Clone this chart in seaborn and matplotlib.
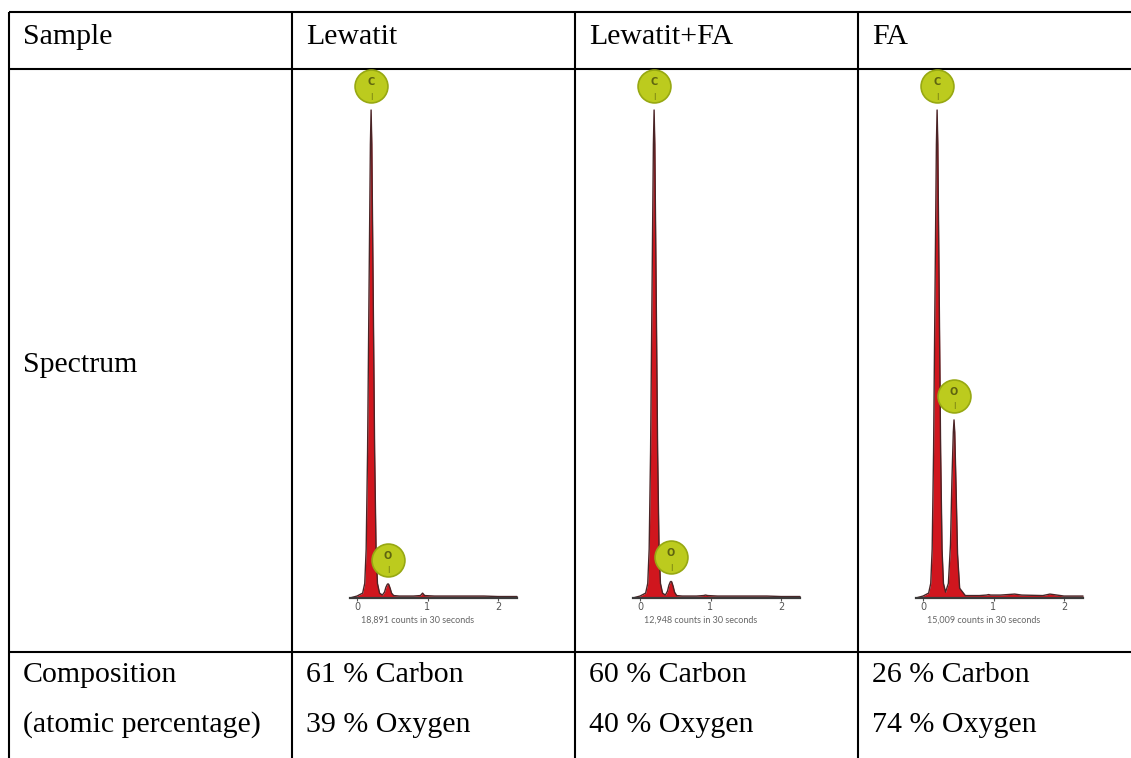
import matplotlib
matplotlib.use("Agg")
import matplotlib.pyplot as plt
from matplotlib.transforms import offset_copy
import seaborn as sns
import pandas as pd

# ---------------- data ----------------
row_labels = ["Sample", "Spectrum", "Composition", "(atomic percentage)"]
samples = ["Lewatit", "Lewatit+FA", "FA"]
carbon_pct = [61, 60, 26]
oxygen_pct = [39, 40, 74]
counts_text = ["18,891 counts in 30 seconds", "12,948 counts in 30 seconds", "15,009 counts in 30 seconds"]

# EDS spectra (energy in keV, intensity relative to C peak)
energy = [-0.10, 0.00, 0.08, 0.11, 0.13, 0.15, 0.17, 0.19, 0.20, 0.21, 0.23, 0.25, 0.27, 0.29, 0.32,
          0.36, 0.39, 0.41, 0.43, 0.44, 0.45, 0.47, 0.49, 0.52, 0.60, 0.80, 0.90, 0.93, 0.96, 1.10,
          1.30, 1.40, 1.70, 1.80, 2.00, 2.27]
spec_lewatit = [0.0, 0.004, 0.01, 0.03, 0.10, 0.30, 0.62, 0.93, 1.00, 0.93, 0.62, 0.30, 0.10, 0.03, 0.01,
                0.006, 0.012, 0.022, 0.028, 0.029, 0.028, 0.020, 0.010, 0.005, 0.004, 0.004, 0.005, 0.010, 0.005, 0.004,
                0.004, 0.004, 0.004, 0.004, 0.003, 0.003]
spec_lewfa = [0.0, 0.004, 0.01, 0.03, 0.10, 0.30, 0.62, 0.93, 1.00, 0.93, 0.62, 0.30, 0.10, 0.03, 0.01,
              0.006, 0.014, 0.026, 0.033, 0.034, 0.033, 0.024, 0.012, 0.005, 0.004, 0.004, 0.005, 0.006, 0.005, 0.004,
              0.004, 0.004, 0.004, 0.004, 0.003, 0.003]
spec_fa = [0.0, 0.004, 0.01, 0.03, 0.10, 0.30, 0.62, 0.93, 1.00, 0.93, 0.62, 0.30, 0.10, 0.03, 0.012,
           0.03, 0.11, 0.24, 0.34, 0.365, 0.34, 0.22, 0.09, 0.02, 0.005, 0.005, 0.006, 0.007, 0.006, 0.006,
           0.008, 0.006, 0.005, 0.008, 0.004, 0.004]
spectra = [spec_lewatit, spec_lewfa, spec_fa]
peak_energy = {"C": 0.20, "O": 0.44}
peak_height = [{"C": 1.00, "O": 0.029}, {"C": 1.00, "O": 0.034}, {"C": 1.00, "O": 0.365}]
tick_values = [0, 1, 2]

# ---------------- figure ----------------
sns.set_theme(style="white")
plt.rcParams["text.color"] = "black"
W, H = 1131, 758
fig = plt.figure(figsize=(W / 100, H / 100), dpi=100)
fig.patch.set_facecolor("white")

bg = fig.add_axes([0, 0, 1, 1])
bg.set_xlim(0, W)
bg.set_ylim(H, 0)
bg.axis("off")

serif = ["Liberation Serif", "DejaVu Serif"]
fs = 21.5
lw = 1.5

col_x = [9, 292, 575, 858]
y_top, y_head, y_mid = 12, 69, 652

# table lines
for yy in (y_top, y_head, y_mid):
    bg.plot([col_x[0], W], [yy, yy], color="black", lw=lw, solid_capstyle="butt")
for cx in col_x:
    bg.plot([cx, cx], [y_top, H], color="black", lw=lw, solid_capstyle="butt")

pad = 14
bg.text(col_x[0] + pad, 44, row_labels[0], family=serif, fontsize=fs, va="baseline", color="black")
bg.text(col_x[0] + pad, 372, row_labels[1], family=serif, fontsize=fs, va="baseline", color="black")
bg.text(col_x[0] + pad, 682, row_labels[2], family=serif, fontsize=fs, va="baseline", color="black")
bg.text(col_x[0] + pad, 732, row_labels[3], family=serif, fontsize=fs, va="baseline", color="black")

for i, s in enumerate(samples):
    x0 = col_x[i + 1] + pad
    bg.text(x0, 44, s, family=serif, fontsize=fs, va="baseline", color="black")
    bg.text(x0, 682, f"{carbon_pct[i]} % Carbon", family=serif, fontsize=fs, va="baseline", color="black")
    bg.text(x0, 732, f"{oxygen_pct[i]} % Oxygen", family=serif, fontsize=fs, va="baseline", color="black")

# spectra
px_per_kev = 70.5
base_y = 598
top_y = 110
for i in range(3):
    cx = col_x[i + 1]
    left_px = cx + 58
    right_px = cx + 225
    zero_px = cx + 65
    ax = fig.add_axes([left_px / W, (H - base_y) / H, (right_px - left_px) / W, (base_y - top_y) / H])
    ax.set_xlim((left_px - zero_px) / px_per_kev, (right_px - zero_px) / px_per_kev)
    ax.set_ylim(0, 1.0)
    ax.patch.set_alpha(0)
    for sp in ["top", "right", "left"]:
        ax.spines[sp].set_visible(False)
    ax.spines["bottom"].set_color("#3a3a3a")
    ax.spines["bottom"].set_linewidth(1.6)
    ax.set_yticks([])
    ax.set_xticks(tick_values)
    ax.set_xticklabels([str(t) for t in tick_values], fontsize=7, color="#555555")
    ax.tick_params(axis="x", length=2, width=0.8, color="#555555", pad=1, bottom=True)

    df = pd.DataFrame({"energy": energy, "counts": spectra[i]})
    ax.fill_between(df["energy"], 0, df["counts"], color="#d0161e", lw=0, clip_on=False)
    sns.lineplot(data=df, x="energy", y="counts", ax=ax, color="#4a2426", lw=1.0,
                 clip_on=False, estimator=None, sort=False)
    ax.set_xlabel("")
    ax.set_ylabel("")

    bg.text(cx + 126, 620, counts_text[i], fontsize=6.5, color="#666666",
            family=["Lato", "DejaVu Sans"], ha="center", va="center")

    for el in ["C", "O"]:
        e = peak_energy[el]
        h = peak_height[i][el]
        tr = offset_copy(ax.transData, fig=fig, x=0, y=24, units="dots")
        ax.scatter([e], [h], s=560, color="#bccb1e", edgecolor="#97a812", linewidth=1.2,
                   transform=tr, clip_on=False, zorder=5)
        tr2 = offset_copy(ax.transData, fig=fig, x=0, y=28, units="dots")
        ax.text(e, h, el, transform=tr2, fontsize=7, color="#5e6410", ha="center", va="center",
                fontweight="bold", zorder=6, clip_on=False)
        tr3 = offset_copy(ax.transData, fig=fig, x=0, y=14, units="dots")
        ax.text(e, h, "|", transform=tr3, fontsize=5, color="#5e6410", ha="center", va="center",
                zorder=6, clip_on=False)

fig.savefig("out.png", dpi=100, facecolor="white")
